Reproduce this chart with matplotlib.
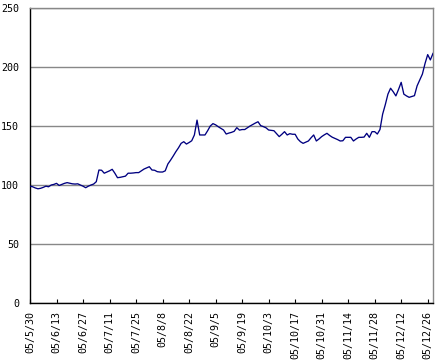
import matplotlib
matplotlib.use("Agg")
import matplotlib.pyplot as plt

tick_labels = ["05/5/30", "05/6/13", "05/6/27", "05/7/11", "05/7/25", "05/8/8",
               "05/8/22", "05/9/5", "05/9/19", "05/10/3", "05/10/17", "05/10/31",
               "05/11/14", "05/11/28", "05/12/12", "05/12/26"]

values = [
    99.0, 98.5, 97.5, 96.8, 97.2, 98.0, 99.0, 98.5, 100.0, 100.5,
    101.4, 99.6, 100.5, 101.4, 102.0, 101.5, 101.0, 100.8, 101.0, 100.0,
    99.0, 97.7, 99.0, 100.0, 100.8, 102.8, 112.7, 112.5, 110.0, 111.0,
    112.0, 113.3, 110.0, 106.2, 106.5, 107.0, 107.5, 110.0, 110.0, 110.2,
    110.5, 110.5, 112.0, 113.5, 114.5, 115.5, 112.7, 112.5, 111.3, 111.0,
    111.0, 112.0, 117.8, 121.0, 124.5, 128.2, 131.5, 135.3, 136.7, 134.7,
    136.0, 137.5, 142.4, 155.0, 142.4, 142.4, 142.4, 146.0, 150.0, 152.0,
    151.0, 149.4, 148.0, 146.6, 143.2, 144.0, 144.6, 145.5, 148.6, 146.5,
    147.0, 147.0, 148.5, 150.0, 151.3, 152.5, 153.6, 150.3, 149.5, 148.5,
    146.6, 146.3, 146.0, 143.5, 141.0, 143.0, 145.2, 142.4, 143.5, 143.0,
    143.0, 139.0, 136.7, 135.3, 136.3, 137.3, 140.0, 142.4, 137.3, 139.0,
    141.0, 142.5, 143.8, 142.0, 140.5, 139.5, 138.5, 137.3, 137.5, 140.4,
    140.4, 140.4, 137.3, 139.0, 140.4, 140.4, 140.6, 143.8, 140.4, 145.2,
    145.2, 143.2, 147.0, 160.0, 168.0, 177.0, 182.0, 179.0, 175.5, 181.0,
    187.0, 177.0, 175.5, 174.3, 175.0, 175.7, 184.0, 189.0, 194.0, 203.0,
    210.5, 206.0, 211.5,
]

fig = plt.figure(figsize=(4.38, 3.64), dpi=100)
ax = fig.add_axes([30/438, 1-303/364, (433-30)/438, (303-8)/364])

x = list(range(len(values)))
ax.plot(x, values, color="#000080", lw=0.95, zorder=3)

ax.set_xlim(0, len(values) - 1)
ax.set_ylim(0, 250)
ax.set_yticks([0, 50, 100, 150, 200, 250])
ax.set_xticks(list(range(0, 10 * len(tick_labels), 10)))
ax.set_xticklabels(tick_labels, rotation=90, family="DejaVu Sans Mono", fontsize=7.2)
for lab in ax.get_yticklabels():
    lab.set_family("DejaVu Sans Mono")
    lab.set_fontsize(7.2)

ax.yaxis.grid(True, color="#888888", lw=1.0)
ax.set_axisbelow(True)
ax.tick_params(axis="x", direction="in", length=3, width=0.8, pad=6, color="black")
ax.tick_params(axis="y", direction="in", length=0, pad=8)

ax.spines["left"].set_color("black")
ax.spines["bottom"].set_color("black")
ax.spines["left"].set_linewidth(1.0)
ax.spines["bottom"].set_linewidth(1.0)
ax.spines["top"].set_color("#888888")
ax.spines["right"].set_color("#888888")
ax.spines["top"].set_linewidth(1.0)
ax.spines["right"].set_linewidth(1.0)

fig.savefig("out.png", dpi=100)
